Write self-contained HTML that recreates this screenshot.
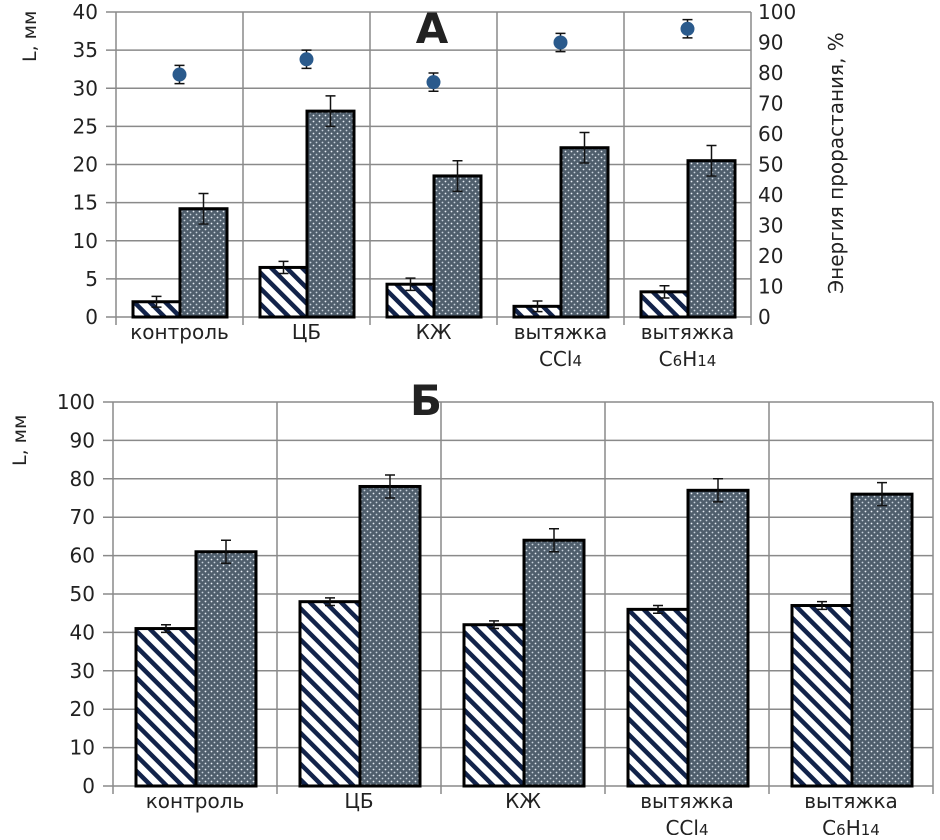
<!DOCTYPE html>
<html><head><meta charset="utf-8"><style>
body{margin:0;background:#fff;}
svg text{font-family:"DejaVu Sans","Liberation Sans",sans-serif;fill:#222;}
</style></head><body>
<svg id="chart" width="940" height="835" viewBox="0 0 940 835" xmlns="http://www.w3.org/2000/svg">
<defs>
<pattern id="hatch" patternUnits="userSpaceOnUse" width="11" height="11" patternTransform="rotate(-45)">
<rect width="11" height="11" fill="#fff"/><rect x="0" y="0" width="4.5" height="11" fill="#12234a"/>
</pattern>
<pattern id="dots" patternUnits="userSpaceOnUse" width="6" height="6">
<rect width="6" height="6" fill="#4f5e6c"/><circle cx="1.5" cy="1.5" r="0.9" fill="#e6ecf2"/><circle cx="4.5" cy="4.5" r="0.9" fill="#c8d2dc"/>
</pattern>
</defs>
<g id="gA"></g>
<g id="gB"></g>
</svg>
<script>
const categoriesA = ["контроль","ЦБ","КЖ","вытяжка|CCl4","вытяжка|C6H14"];
const rootA = [2, 6.5, 4.3, 1.4, 3.3];
const rootErrA = [0.7, 0.8, 0.8, 0.7, 0.8];
const shootA = [14.2, 27, 18.5, 22.2, 20.5];
const shootErrA = [2, 2, 2, 2, 2];
const energyA = [79.5, 84.5, 77, 90, 94.5];
const energyErrA = [3, 3, 3, 3, 3];
const ticksA = [0,5,10,15,20,25,30,35,40];
const ticksRightA = [0,10,20,30,40,50,60,70,80,90,100];
const categoriesB = ["контроль","ЦБ","КЖ","вытяжка|CCl4","вытяжка|C6H14"];
const rootB = [41, 48, 42, 46, 47];
const rootErrB = [1, 1, 1, 1, 1];
const shootB = [61, 78, 64, 77, 76];
const shootErrB = [3, 3, 3, 3, 3];
const ticksB = [0,10,20,30,40,50,60,70,80,90,100];

const NS="http://www.w3.org/2000/svg";
function mk(parent,tag,attrs,text){const e=document.createElementNS(NS,tag);for(const k in attrs)e.setAttribute(k,attrs[k]);if(text!==undefined)e.textContent=text;parent.appendChild(e);return e;}

function drawChart(g,cfg){
  const {x0,catW,yTop,yBot,ymax,cats,root,rootErr,shoot,shootErr,ticks,off,bw,fs}=cfg;
  const y=v=>yBot-(v/ymax)*(yBot-yTop);
  const xEnd=x0+catW*cats.length;
  ticks.forEach(t=>{
    const l=mk(g,'line',{x1:x0-10,x2:xEnd,y1:y(t),y2:y(t),stroke:'#8a8a8a','stroke-width':1.5});
    
    
    const tx=mk(g,'text',{x:x0-18,y:y(t)+7,'text-anchor':'end','font-size':fs},String(t));
    
    
  });
  for(let i=0;i<=cats.length;i++){
    const l=mk(g,'line',{x1:x0+i*catW,x2:x0+i*catW,y1:yTop,y2:yBot+8,stroke:'#8a8a8a','stroke-width':1.5});
    
    
  }
  cats.forEach((c,i)=>{
    const bx=x0+i*catW+off;
    [[root[i],rootErr[i],'url(#hatch)','root-bar'],[shoot[i],shootErr[i],'url(#dots)','shoot-bar']].forEach((s,j)=>{
      const xx=bx+j*bw;
      const r=mk(g,'rect',{x:xx,y:y(s[0]),width:bw,height:yBot-y(s[0]),fill:s[2],stroke:'#000','stroke-width':3});
      
      
      const cx=xx+bw/2;
      const e=mk(g,'path',{d:`M${cx},${y(s[0]+s[1])}V${y(s[0]-s[1])}M${cx-5},${y(s[0]+s[1])}H${cx+5}M${cx-5},${y(s[0]-s[1])}H${cx+5}`,stroke:'#111','stroke-width':1.5,fill:'none'});
      
      
    });
    const parts=c.split('|');
    const cx=x0+i*catW+catW/2;
    parts.forEach((p,k)=>{
      const t=mk(g,'text',{x:cx,y:yBot+22+k*27,'text-anchor':'middle','font-size':fs});
      if(p==='CCl4'){t.textContent='CCl';mk(t,'tspan',{'font-size':fs*0.75},'4');}
      else if(p==='C6H14'){t.textContent='C';mk(t,'tspan',{'font-size':fs*0.75},'6');mk(t,'tspan',{},'H');mk(t,'tspan',{'font-size':fs*0.75},'14');}
      else t.textContent=p;
      
      
    });
  });
  return y;
}
const gA=document.getElementById('gA');
drawChart(gA,{x0:116,catW:127,yTop:12,yBot:317,ymax:40,cats:categoriesA,root:rootA,rootErr:rootErrA,shoot:shootA,shootErr:shootErrA,ticks:ticksA,off:17,bw:47,fs:20});
const yR=v=>317-(v/100)*(317-12);
ticksRightA.forEach(t=>{
  const tx=mk(gA,'text',{x:758,y:yR(t)+7,'font-size':20},String(t));
  
  
});
energyA.forEach((v,i)=>{
  const cx=116+i*127+63.5;
  const e=mk(gA,'path',{d:`M${cx},${yR(v+energyErrA[i])}V${yR(v-energyErrA[i])}M${cx-5},${yR(v+energyErrA[i])}H${cx+5}M${cx-5},${yR(v-energyErrA[i])}H${cx+5}`,stroke:'#111','stroke-width':1.5});
  
  
  const c=mk(gA,'circle',{cx:cx,cy:yR(v),r:7,fill:'#2a5a8c'});
  
  
});
let t;
t=mk(gA,'text',{x:0,y:0,transform:'translate(36,62) rotate(-90)','font-size':19},'L, мм');

t=mk(gA,'text',{x:0,y:0,transform:'translate(843,163) rotate(-90)','font-size':20,'text-anchor':'middle'},'Энергия прорастания, %');

t=mk(gA,'text',{x:432,y:43,'font-size':42,'font-weight':'bold','text-anchor':'middle',fill:'#000'},'А');


const gB=document.getElementById('gB');
drawChart(gB,{x0:113,catW:164,yTop:402,yBot:786,ymax:100,cats:categoriesB,root:rootB,rootErr:rootErrB,shoot:shootB,shootErr:shootErrB,ticks:ticksB,off:23,bw:60,fs:20});
t=mk(gB,'text',{x:0,y:0,transform:'translate(26,466) rotate(-90)','font-size':19},'L, мм');

t=mk(gB,'text',{x:426,y:415,'font-size':42,'font-weight':'bold','text-anchor':'middle',fill:'#000'},'Б');

</script>
</body></html>
